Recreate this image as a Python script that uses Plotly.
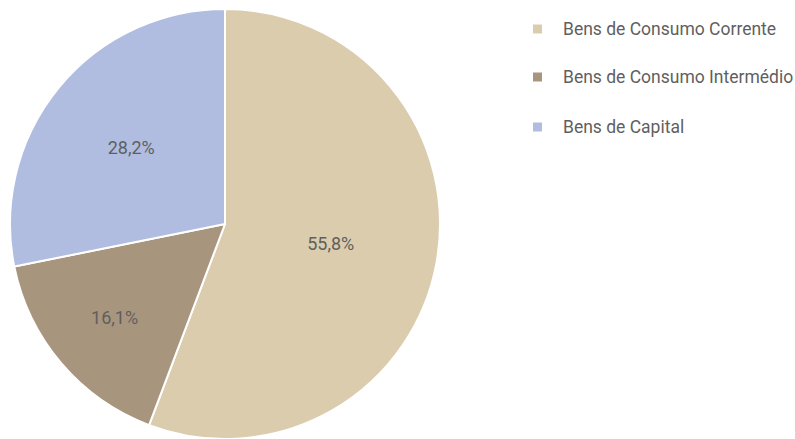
import plotly.graph_objects as go

categories = ["Bens de Consumo Corrente", "Bens de Consumo Intermédio", "Bens de Capital"]
values = [55.8, 16.1, 28.2]
value_labels = ["55,8%", "16,1%", "28,2%"]
colors = ["#DBCCAE", "#A8957E", "#B0BDE0"]

FONT = "Roboto, Arial, sans-serif"

fig = go.Figure()
fig.add_trace(go.Pie(
    labels=categories,
    values=values,
    text=value_labels,
    textinfo="text",
    textposition="inside",
    insidetextorientation="horizontal",
    textfont=dict(family=FONT, size=18, color="#5f5f5f"),
    marker=dict(colors=colors, line=dict(color="white", width=2)),
    sort=False,
    direction="clockwise",
    rotation=0,
    showlegend=False,
    hole=0,
    domain=dict(x=[10/795, 440/795], y=[0, 1 - 9/439]),
))

# manual legend
W, H = 795, 439
legend_y = [29, 77, 127]
for cat, col, yy in zip(categories, colors, legend_y):
    fig.add_shape(type="rect", xref="paper", yref="paper",
                  x0=533/W, x1=542/W, y0=1 - (yy + 4.5)/H, y1=1 - (yy - 4.5)/H,
                  fillcolor=col, line=dict(width=0))
    fig.add_annotation(xref="paper", yref="paper", x=561/W, y=1 - yy/H,
                       text=cat, showarrow=False, xanchor="left", yanchor="middle",
                       font=dict(family=FONT, size=17.5, color="#5f5f5f"))

fig.update_layout(
    width=W, height=H,
    margin=dict(l=0, r=0, t=0, b=0),
    paper_bgcolor="white",
    plot_bgcolor="white",
)

fig.write_html("out.html", config={"displayModeBar": False},
               post_script="document.body.style.margin='0';")
